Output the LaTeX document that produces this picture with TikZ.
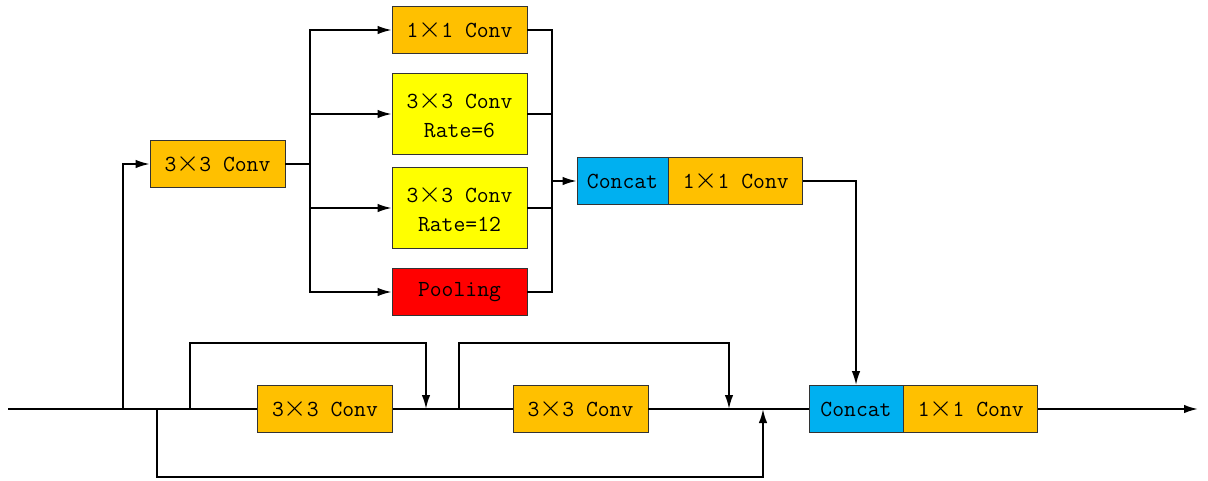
\documentclass[tikz,border=0pt]{standalone}
\usepackage{fontspec}
\usetikzlibrary{arrows.meta}
\definecolor{convorange}{HTML}{FFC000}
\definecolor{rateyellow}{HTML}{FFFF00}
\definecolor{poolred}{HTML}{FF0000}
\definecolor{catblue}{HTML}{00B0F0}
\newcommand{\tm}{\makebox[1em]{\scalebox{1.2}{$\times$}}}
\begin{document}
\begin{tikzpicture}[x=1pt,y=-1pt,
  blk/.style={draw=black!80,line width=0.8pt,minimum width=135pt,minimum height=47pt,
    inner sep=0pt,align=center,font=\ttfamily\fontsize{23}{29}\selectfont},
  conv/.style={blk,fill=convorange},
  rate/.style={blk,fill=rateyellow,minimum height=81pt},
  pool/.style={blk,fill=poolred},
  cat/.style={blk,fill=catblue,minimum width=91pt},
  wire/.style={line width=1.8pt},
  arr/.style={wire,-{Latex[length=14pt,width=8.5pt]}}]
\useasboundingbox (0,0) rectangle (1208,480);

% atrous pyramid branch
\node[conv] (c1) at (217.5,164) {3\tm3 Conv};
\node[conv] (b1) at (459.5,30) {1\tm1 Conv};
\node[rate] (b2) at (459.5,114) {3\tm3 Conv\\Rate=6};
\node[rate] (b3) at (459.5,208) {3\tm3 Conv\\Rate=12};
\node[pool] (b4) at (459.5,292) {Pooling};
\node[cat] (cat1) at (622.5,181) {Concat};
\node[conv,minimum width=134pt,anchor=west] (conv1) at (cat1.east) {1\tm1 Conv};

% residual trunk
\node[conv] (d1) at (325,409) {3\tm3 Conv};
\node[conv] (d2) at (580.5,409) {3\tm3 Conv};
\node[cat,minimum width=94pt] (cat2) at (856,409) {Concat};
\node[conv,minimum width=134pt,anchor=west] (conv2) at (cat2.east) {1\tm1 Conv};

\coordinate (in) at (8,409);
\coordinate (out) at (1198,409);
\coordinate (up) at (123,409);
\coordinate (down) at (157,409);
\coordinate (sk1) at (190,409);
\coordinate (j1) at (426,409);
\coordinate (sk2) at (459,409);
\coordinate (j2) at (729,409);
\coordinate (j3) at (763,409);
\coordinate (split) at (310,164);
\coordinate (merge) at (552,181);

% main line
\draw[wire] (in) -- (d1.west);
\draw[wire] (d1.east) -- (d2.west);
\draw[wire] (d2.east) -- (cat2.west);
\draw[arr] (conv2.east) -- (out);

% upper branch
\draw[arr] (up) |- (c1.west);
\draw[wire] (c1.east) -- (split);
\foreach \b in {b1,b2,b3,b4} {
  \draw[arr] (split) |- (\b.west);
  \draw[wire] (\b.east) -| (merge);
}
\draw[arr] (merge) -- (cat1.west);
\draw[arr] (conv1.east) -| (cat2.north);

% skip connections
\draw[arr] (sk1) -- ++(0,-66) -| (j1);
\draw[arr] (sk2) -- ++(0,-66) -| (j2);
\draw[arr] (down) -- ++(0,68) -| (j3);
\end{tikzpicture}
\end{document}
